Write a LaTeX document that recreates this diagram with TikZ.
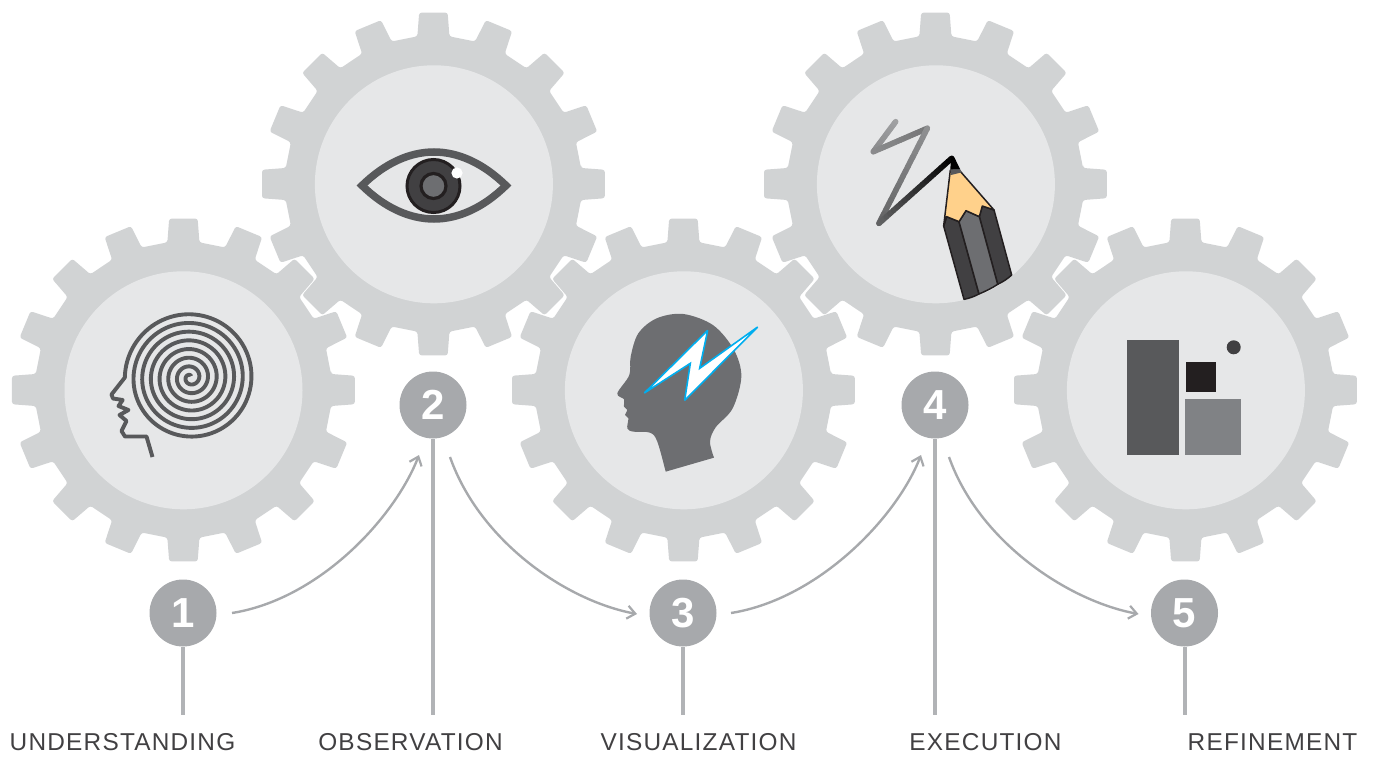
\documentclass[tikz,border=0pt]{standalone}
\usepackage{fontspec}
\setmainfont{Liberation Sans}
\newfontfamily\lblfont[LetterSpace=5]{Liberation Sans}
\usetikzlibrary{arrows.meta,calc}
\definecolor{gearc}{HTML}{D1D3D4}
\definecolor{discc}{HTML}{E6E7E8}
\definecolor{numc}{HTML}{A7A9AC}
\definecolor{linec}{HTML}{B1B3B6}
\definecolor{arrc}{HTML}{A7A9AC}
\definecolor{txtc}{HTML}{414042}
\definecolor{ink}{HTML}{58595B}
\definecolor{headc}{HTML}{6D6E71}
\definecolor{darkc}{HTML}{231F20}
\definecolor{midc}{HTML}{414042}
\definecolor{wood}{HTML}{FFD18B}
\definecolor{bolt}{HTML}{00AEEF}
\definecolor{graybar}{HTML}{808285}
\definecolor{scribble}{HTML}{A8A9AB}
\tikzset{
  disc/.style={circle,fill=discc,draw=none,minimum size=238pt,inner sep=0pt},
  numnode/.style={circle,fill=numc,draw=none,minimum size=67pt,inner sep=0pt,text=white,font=\fontsize{42}{42}\selectfont\bfseries},
  lbl/.style={text=txtc,font=\fontsize{24.4}{24.4}\lblfont,inner sep=0pt,anchor=base},
  stem/.style={draw=linec,line width=4pt},
  flow/.style={draw=arrc,line width=2.4pt,-{Straight Barb[length=8pt,width=13pt,line width=2.2pt]}},
  facet/.style={draw=darkc,line width=1.5pt,line join=round},
}
\newcommand{\gearat}[2]{%
  \fill[gearc,rounded corners=2.5pt,shift={(#1,#2)}]
    (-6.2:148.5) foreach \a in {0,22.5,...,337.5}{ -- (\a-6.2:148.5) -- (\a-4.75:172) -- (\a+4.75:172) -- (\a+6.2:148.5)} -- cycle;
}
\begin{document}
\begin{tikzpicture}[x=1pt,y=-1pt]
\useasboundingbox (0,0) rectangle (1373,757);
\gearat{183.4}{390}\gearat{433.4}{184}\gearat{683.4}{390}\gearat{935.4}{184}\gearat{1185.4}{390}
\node[disc] (g1) at (183.5,390.3) {};
\node[disc] (g2) at (433.9,184.3) {};
\node[disc] (g3) at (683.9,390.3) {};
\node[disc] (g4) at (935.9,184.3) {};
\node[disc] (g5) at (1185.9,390.3) {};
% numbers
\node[numnode] (n1) at (183,613) {1};
\node[numnode] (n2) at (433,405) {2};
\node[numnode] (n3) at (683,613) {3};
\node[numnode] (n4) at (935,405) {4};
\node[numnode] (n5) at (1184.5,613) {5};
% labels
\node[lbl] (l1) at (122.5,750) {UNDERSTANDING};
\node[lbl] (l2) at (410.5,750) {OBSERVATION};
\node[lbl] (l3) at (698.5,750) {VISUALIZATION};
\node[lbl] (l4) at (985.5,750) {EXECUTION};
\node[lbl] (l5) at (1272.5,750) {REFINEMENT};
% stems
\foreach \i in {1,2,3,4,5}{
  \coordinate (e\i) at ($(n\i.south |- 0,715)$);
  \draw[stem] (n\i.south) -- (e\i);
}
% arrows
\coordinate (a1) at ($(n1)+(49,0)$);
\coordinate (b1) at ($(n2)+(-14,50)$);
\coordinate (a2) at ($(n2)+(17,52)$);
\coordinate (b2) at ($(n3)+(-46,1)$);
\coordinate (a3) at ($(n3)+(48,0)$);
\coordinate (b3) at ($(n4)+(-14,50)$);
\coordinate (a4) at ($(n4)+(14,52)$);
\coordinate (b4) at ($(n5)+(-46,1)$);
\draw[flow] (a1) .. controls +(88,-14) and +(-24,62) .. (b1);
\draw[flow] (a2) .. controls +(30,85) and +(-70,-13) .. (b2);
\draw[flow] (a3) .. controls +(88,-14) and +(-24,62) .. (b3);
\draw[flow] (a4) .. controls +(30,85) and +(-70,-13) .. (b4);
% spiral man
\draw[ink,line width=3.9pt,line join=round,line cap=butt]
  plot[domain=2640:0,samples=700,variable=\u]
    ({190.3+(65.5-0.024167*\u)*cos(\u-180)},{377.6+(65.5-0.024167*\u)*sin(\u-180)})
  -- (111.5,394.5) -- (113,398.5) -- (122.7,400) -- (118.5,406) -- (128.5,410) -- (119.5,415) -- (126.5,421) -- (121.5,431) -- (125,436.5) -- (146.5,436.5) -- (152.5,457);
% eye
\draw[ink,line width=7.5pt,fill=discc,line join=miter]
  (362,185.5) .. controls (385,163) and (410,152) .. (434,152)
  .. controls (458,152) and (483,163) .. (506,185.5)
  .. controls (483,208) and (458,219) .. (434,219)
  .. controls (410,219) and (385,208) .. (362,185.5) -- cycle;
\draw[darkc,fill=midc,line width=3pt] (433.5,186) circle (26.5);
\draw[darkc,fill=headc,line width=3.2pt] (433.5,186) circle (12.5);
\fill[white] (457,173) circle (5.6);
% head & bolt
\begin{scope}[shift={(600,300)},x=0.33333pt,y=-0.33333pt]
\fill[headc] plot[smooth,tension=0.55] coordinates {(342,473) (330,425) (347,382) (398,325) (424,230) (402,150) (340,76) (250,42) (170,55) (115,100) (92,170) (88,225) (52,280) (72,298) (72,320) (82,330) (75,345) (85,355) (82,385) (100,395) (150,398) (172,425) (197,515)} -- cycle;
\draw[bolt,fill=white,line width=1.6pt,line join=miter,miter limit=3] (133,279) -- (323,91) -- (299,205) -- (473,81) -- (254,301) -- (271,190) -- cycle;
\end{scope}
% pencil
\begin{scope}[shift={(850,100)},x=0.33333pt,y=-0.33333pt]
\coordinate (p0) at (137,65);
\coordinate (p1) at (70,155);
\coordinate (p2) at (232,85);
\coordinate (p3) at (87,370);
\coordinate (p4) at (305,175);
\foreach \s/\ca/\cb in {0/5/18,1/18/30,2/15/42,3/42/100}{
  \pgfmathtruncatemacro{\nx}{\s+1}
  \foreach \t in {0,1,...,19}{
    \pgfmathsetmacro{\ta}{\t/20}
    \pgfmathsetmacro{\tb}{(\t+1)/20}
    \pgfmathtruncatemacro{\mixv}{\ca+(\cb-\ca)*\ta}
    \draw[black!\mixv!scribble,line width=5.6pt,line cap=round] ($(p\s)!\ta!(p\nx)$) -- ($(p\s)!\tb!(p\nx)$);
  }
}
\filldraw[facet,fill=midc] (281,378) -- (290,350) -- (327,365) -- (387,582) .. controls (372,590) and (357,595) .. (342,598) -- cycle;
\filldraw[facet,fill=midc] (388,350) -- (397,318) -- (432,330) -- (485,525) .. controls (472,537) and (458,546) .. (443,553) -- cycle;
\filldraw[facet,fill=headc] (327,365) -- (348,332) -- (388,350) -- (443,553) .. controls (425,565) and (406,574) .. (387,582) -- cycle;
\filldraw[facet,fill=wood] (281,378) -- (301,210) -- (330,213) -- (432,330) -- (397,318) -- (388,350) -- (348,332) -- (327,365) -- (290,350) -- cycle;
\fill[ink] (301,208) -- (330,207) -- (335,217) -- (303,225) -- cycle;
\fill[black] (303,170) -- (313,172) -- (330,207) -- (301,208) -- cycle;
\end{scope}
% bars
\fill[ink] (1127,340) rectangle (1179,455);
\fill[darkc] (1186,362) rectangle (1216,392);
\fill[graybar] (1185,399) rectangle (1241,455);
\fill[midc] (1233.7,347.3) circle (7);
\end{tikzpicture}
\end{document}
